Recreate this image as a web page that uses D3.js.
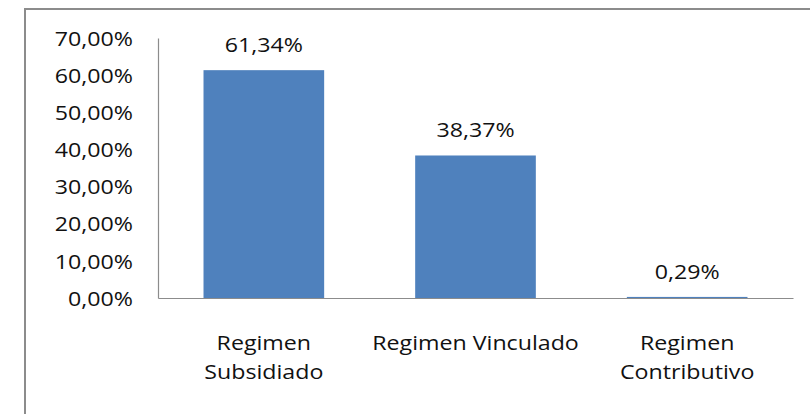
<!DOCTYPE html>
<html>
<head>
<meta charset="utf-8">
<script src="https://cdn.jsdelivr.net/npm/d3@7"></script>
<style>
  html, body { margin: 0; padding: 0; background: #fff; }
  svg { display: block; }
  text { font-family: "Open Sans", sans-serif; fill: #111; }
</style>
</head>
<body>
<svg id="chart" width="810" height="414"></svg>
<script>
const categories = ["Regimen Subsidiado", "Regimen Vinculado", "Regimen Contributivo"];
const categoryLines = [["Regimen", "Subsidiado"], ["Regimen Vinculado"], ["Regimen", "Contributivo"]];
const values = [61.34, 38.37, 0.29];
const tickValues = [0, 10, 20, 30, 40, 50, 60, 70];

const locale = d3.formatLocale({ decimal: ",", thousands: ".", grouping: [3], currency: ["", ""] });
const fmt2 = locale.format(".2f");
const pct = v => fmt2(v) + "%";

const W = 810, H = 414;
const plotLeft = 158, plotRight = 793, plotTop = 38, plotBottom = 298;
const sx = 1.16; // horizontal text stretch
const fontSize = 20;

const svg = d3.select("#chart");

// outer frame
svg.append("rect")
  .attr("x", 25).attr("y", 9)
  .attr("width", W + 20).attr("height", H + 20)
  .attr("fill", "none").attr("stroke", "#8c8c8c").attr("stroke-width", 2);

const x = d3.scaleBand().domain(categories).range([plotLeft, plotRight]).paddingInner(0.43).paddingOuter(0.215);
const y = d3.scaleLinear().domain([0, 70]).range([plotBottom, plotTop]);

// bars
svg.selectAll("rect.bar").data(values).join("rect")
  .attr("class", "bar")
  .attr("x", (d, i) => x(categories[i]))
  .attr("width", x.bandwidth())
  .attr("y", d => y(d))
  .attr("height", d => y(0) - y(d))
  .attr("fill", "#4F81BD");

// y axis
const yAxis = d3.axisLeft(y).tickValues(tickValues).tickFormat(pct).tickSize(0).tickPadding(25);
const gy = svg.append("g").attr("transform", `translate(${plotLeft},0)`).call(yAxis);
gy.select(".domain").attr("stroke", "#8c8c8c").attr("stroke-width", 1.2);
gy.selectAll(".tick text")
  .attr("font-size", fontSize)
  .attr("font-family", "Open Sans, sans-serif")
  .attr("fill", "#111")
  .attr("dy", "0.36em")
  .each(function() {
    const t = d3.select(this);
    const xx = +t.attr("x");
    t.attr("x", xx / sx).attr("transform", `scale(${sx},1)`);
  });

// x axis
const xAxis = d3.axisBottom(x).tickSize(0).tickFormat("");
const gx = svg.append("g").attr("transform", `translate(0,${plotBottom})`).call(xAxis);
gx.select(".domain").attr("stroke", "#8c8c8c").attr("stroke-width", 1.2);

// category labels
categoryLines.forEach((lines, i) => {
  const cx = x(categories[i]) + x.bandwidth() / 2;
  lines.forEach((ln, j) => {
    svg.append("text")
      .attr("transform", `translate(${cx},${350 + j * 29}) scale(${sx},1)`)
      .attr("text-anchor", "middle")
      .attr("font-size", fontSize)
      .text(ln);
  });
});

// value labels
values.forEach((v, i) => {
  const cx = x(categories[i]) + x.bandwidth() / 2;
  svg.append("text")
    .attr("transform", `translate(${cx},${y(v) - 18}) scale(${sx},1)`)
    .attr("text-anchor", "middle")
    .attr("font-size", fontSize)
    .text(pct(v));
});
</script>
</body>
</html>
